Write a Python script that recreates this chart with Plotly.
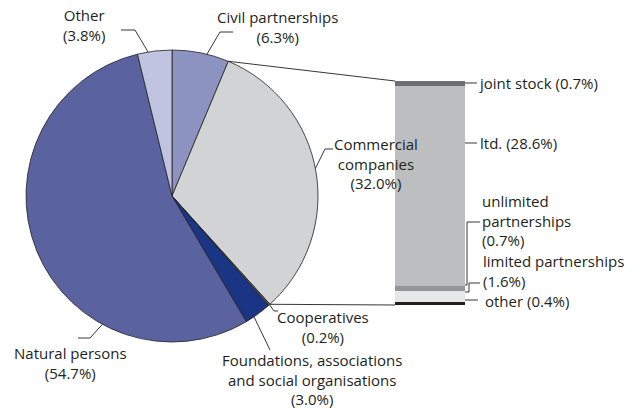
import math
import plotly.graph_objects as go

# Legal form of entities, pie read clockwise from 12 o'clock
PIE_LABELS = ["Civil partnerships", "Commercial companies", "Cooperatives",
              "Foundations, associations and social organisations",
              "Natural persons", "Other"]
PIE_VALUES = [6.3, 32.0, 0.2, 3.0, 54.7, 3.8]
PIE_COLORS = ["#8d93c1", "#d1d3d4", "#58595b", "#1b3585", "#5a63a0", "#c1c4e1"]

# Breakdown of commercial companies, top to bottom
BAR_LABELS = ["joint stock", "ltd.", "unlimited partnerships",
              "limited partnerships", "other"]
BAR_VALUES = [0.7, 28.6, 0.7, 1.6, 0.4]
BAR_COLORS = ["#6d6e71", "#bcbec0", "#939598", "#e6e7e8", "#231f20"]

W, H = 633, 409
CX, CY, R = 172, 196, 146              # pie centre / radius in px
BX0, BX1, BY0, BY1 = 395, 465, 81, 305  # stacked bar box in px
FONT = "Open Sans"
TXT = "#231f20"
FS = 15


def P(x, y):
    return x / W, 1 - y / H


def edge(i, f):
    cum = sum(PIE_VALUES[:i]) + f * PIE_VALUES[i]
    a = 2 * math.pi * cum / sum(PIE_VALUES)
    return CX + R * math.sin(a), CY - R * math.cos(a)


def pct(v):
    return f"({v:.1f}%)"


fig = go.Figure()

fig.add_trace(go.Pie(
    labels=PIE_LABELS, values=PIE_VALUES, sort=False, direction="clockwise",
    rotation=0, textinfo="none", showlegend=False,
    marker=dict(colors=PIE_COLORS, line=dict(color="#231f20", width=0.8)),
    domain=dict(x=[(CX - R) / W, (CX + R) / W],
                y=[1 - (CY + R) / H, 1 - (CY - R) / H]),
))

# stacked bar, drawn bottom-up
for lbl, val, col in reversed(list(zip(BAR_LABELS, BAR_VALUES, BAR_COLORS))):
    fig.add_trace(go.Bar(x=["Commercial companies"], y=[val], name=lbl,
                         marker=dict(color=col, line=dict(width=0)),
                         showlegend=False))

shapes, annos = [], []


def poly(pts, width=0.9):
    d = ""
    for k, (x, y) in enumerate(pts):
        px, py = P(x, y)
        d += ("M" if k == 0 else "L") + f"{px:.5f},{py:.5f} "
    shapes.append(dict(type="path", path=d, xref="paper", yref="paper",
                       line=dict(color=TXT, width=width)))


def text(lines, x, yc, anchor="center"):
    # one annotation per label, yc = vertical centre of the block
    px, py = P(x, yc)
    annos.append(dict(text="<br>".join(lines), x=px, y=py,
                      xref="paper", yref="paper", align=anchor,
                      xanchor=anchor, yanchor="middle", showarrow=False,
                      borderpad=0,
                      font=dict(family=FONT, size=FS, color=TXT)))


# connector lines pie -> bar
poly([edge(1, 0), (BX0, BY0)])
poly([edge(1, 1), (BX0, BY1)])

# pie labels
v = PIE_VALUES
text(["Civil partnerships", pct(v[0])], 277, 27)
poly([edge(0, 0.61), (220, 32), (233, 32)])
text(["Commercial", "companies", pct(v[1])], 376, 163)
poly([edge(1, 0.49), (325, 149), (333, 149)])
text(["Cooperatives", pct(v[2])], 323, 327)
poly([edge(2, 0.3), (274, 311), (278, 311)])
text(["Foundations, associations", "and social organisations", pct(v[3])],
     312, 379)
poly([edge(3, 0.67), (270, 350)])
text(["Natural persons", pct(v[4])], 70, 363)
poly([edge(4, 0.3), (90, 338), (78, 338)])
text(["Other", pct(v[5])], 84, 25)
poly([edge(5, 0.31), (135, 30), (121, 30)])

# bar labels
b = BAR_VALUES
text([f"joint stock {pct(b[0])}"], 478, 83, "left")
poly([(BX1, 83), (477, 83)])
text([f"ltd. {pct(b[1])}"], 479, 143, "left")
poly([(BX1, 143), (477, 143)])
text(["unlimited", "partnerships", pct(b[2])], 481, 220.5, "left")
poly([(BX1, 285), (467, 285), (467, 222), (480, 222)])
text(["limited partnerships", pct(b[3])], 482, 270.5, "left")
poly([(BX1, 292), (469, 292), (469, 283), (480, 283)])
text([f"other {pct(b[4])}"], 484, 301, "left")
poly([(BX1, 300), (478, 300)])

fig.update_layout(
    width=W, height=H, margin=dict(l=0, r=0, t=0, b=0),
    paper_bgcolor="white", plot_bgcolor="rgba(0,0,0,0)",
    barmode="stack", bargap=0,
    xaxis=dict(domain=[BX0 / W, BX1 / W], range=[-0.5, 0.5], visible=False),
    yaxis=dict(domain=[1 - BY1 / H, 1 - BY0 / H], range=[0, sum(BAR_VALUES)],
               visible=False),
    font=dict(family=FONT, color=TXT),
    shapes=shapes, annotations=annos,
)

# drop the default 8px page margin so the figure sits at the window origin
fig.write_html("out.html", config={"displayModeBar": False},
               post_script="document.body.style.margin='0';")
